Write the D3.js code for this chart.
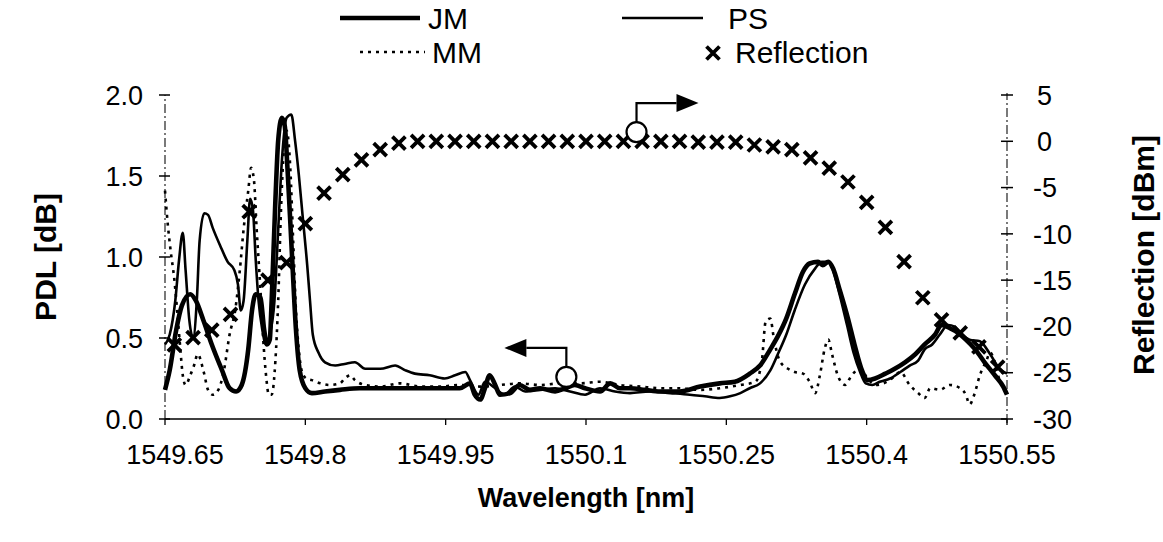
<!DOCTYPE html>
<html><head><meta charset="utf-8">
<script src="https://cdn.jsdelivr.net/npm/d3@7"></script>
<style>
body{margin:0;background:#fff}
svg{display:block;background:#fff}
text{font-family:"Liberation Sans",Arial,sans-serif;fill:#000}
</style>
</head><body>
<svg id="chart" width="1163" height="542"></svg>
<script>
// ---------- data ----------
const xTickValues = [1549.65, 1549.8, 1549.95, 1550.1, 1550.25, 1550.4, 1550.55];
const xTickLabels = ["1549.65", "1549.8", "1549.95", "1550.1", "1550.25", "1550.4", "1550.55"];
const pdlTickValues = [0, 0.5, 1.0, 1.5, 2.0];
const pdlTickLabels = ["0.0", "0.5", "1.0", "1.5", "2.0"];
const reflTickValues = [5, 0, -5, -10, -15, -20, -25, -30];
const reflTickLabels = ["5", "0", "-5", "-10", "-15", "-20", "-25", "-30"];

const seriesNames = ["JM", "PS", "MM", "Reflection"];

const jmWl = [1549.650,1549.655,1549.662,1549.668,1549.677,1549.683,1549.691,1549.700,1549.711,1549.719,1549.726,1549.732,1549.739,1549.743,1549.747,1549.752,1549.756,1549.759,1549.762,1549.764,1549.768,1549.771,1549.775,1549.778,1549.781,1549.786,1549.790,1549.794,1549.800,1549.807,1549.821,1549.837,1549.858,1549.880,1549.901,1549.923,1549.944,1549.965,1549.976,1549.981,1549.987,1549.992,1549.997,1550.003,1550.008,1550.019,1550.029,1550.040,1550.051,1550.067,1550.078,1550.088,1550.099,1550.115,1550.126,1550.136,1550.147,1550.163,1550.179,1550.200,1550.222,1550.243,1550.259,1550.275,1550.286,1550.297,1550.305,1550.314,1550.323,1550.332,1550.339,1550.348,1550.353,1550.359,1550.364,1550.371,1550.380,1550.387,1550.395,1550.401,1550.409,1550.420,1550.430,1550.441,1550.452,1550.462,1550.473,1550.480,1550.489,1550.498,1550.506,1550.516,1550.526,1550.537,1550.546,1550.550];
const jmPdl = [0.18,0.30,0.55,0.70,0.77,0.73,0.61,0.46,0.30,0.19,0.17,0.21,0.43,0.67,0.77,0.75,0.55,0.46,0.49,0.73,1.35,1.72,1.86,1.81,1.54,0.98,0.55,0.30,0.19,0.16,0.17,0.18,0.19,0.19,0.19,0.19,0.19,0.19,0.22,0.15,0.12,0.19,0.27,0.21,0.15,0.16,0.21,0.18,0.19,0.17,0.19,0.21,0.19,0.17,0.22,0.19,0.19,0.18,0.17,0.17,0.20,0.22,0.23,0.28,0.33,0.43,0.51,0.62,0.77,0.91,0.96,0.97,0.95,0.97,0.93,0.80,0.62,0.46,0.30,0.24,0.25,0.28,0.31,0.35,0.40,0.46,0.52,0.58,0.56,0.53,0.49,0.43,0.35,0.27,0.20,0.15];

const psWl = [1549.650,1549.655,1549.661,1549.665,1549.669,1549.672,1549.676,1549.680,1549.684,1549.687,1549.692,1549.696,1549.701,1549.709,1549.717,1549.724,1549.728,1549.731,1549.734,1549.738,1549.741,1549.744,1549.747,1549.750,1549.754,1549.758,1549.762,1549.767,1549.771,1549.775,1549.780,1549.785,1549.789,1549.793,1549.797,1549.802,1549.805,1549.808,1549.814,1549.821,1549.832,1549.842,1549.853,1549.864,1549.880,1549.896,1549.907,1549.917,1549.933,1549.949,1549.960,1549.971,1549.976,1549.985,1549.992,1550.003,1550.013,1550.024,1550.035,1550.051,1550.067,1550.083,1550.099,1550.115,1550.131,1550.147,1550.168,1550.190,1550.211,1550.227,1550.243,1550.254,1550.265,1550.275,1550.286,1550.297,1550.305,1550.314,1550.323,1550.334,1550.345,1550.352,1550.359,1550.364,1550.371,1550.379,1550.386,1550.393,1550.399,1550.406,1550.414,1550.425,1550.436,1550.446,1550.455,1550.462,1550.470,1550.478,1550.487,1550.494,1550.502,1550.510,1550.521,1550.532,1550.542,1550.550];
const psPdl = [0.46,0.52,0.73,0.98,1.15,0.92,0.61,0.50,0.73,1.10,1.27,1.26,1.18,1.07,0.97,0.92,0.83,0.67,0.73,1.10,1.36,1.29,0.98,0.73,0.55,0.46,0.52,0.73,1.17,1.60,1.86,1.88,1.72,1.51,1.26,0.95,0.73,0.52,0.41,0.35,0.33,0.34,0.35,0.31,0.31,0.33,0.30,0.28,0.27,0.25,0.27,0.29,0.24,0.15,0.23,0.19,0.15,0.20,0.17,0.18,0.19,0.17,0.15,0.19,0.17,0.16,0.17,0.16,0.15,0.14,0.13,0.14,0.16,0.19,0.22,0.30,0.40,0.52,0.67,0.83,0.93,0.97,0.97,0.92,0.77,0.58,0.41,0.29,0.22,0.21,0.23,0.25,0.29,0.33,0.36,0.43,0.46,0.52,0.58,0.57,0.52,0.49,0.48,0.40,0.31,0.28];

const mmWl = [1549.650,1549.653,1549.656,1549.660,1549.663,1549.666,1549.669,1549.672,1549.677,1549.681,1549.685,1549.691,1549.696,1549.701,1549.707,1549.713,1549.719,1549.725,1549.730,1549.734,1549.739,1549.742,1549.745,1549.748,1549.752,1549.755,1549.758,1549.761,1549.764,1549.768,1549.771,1549.774,1549.777,1549.780,1549.784,1549.787,1549.790,1549.793,1549.796,1549.801,1549.807,1549.816,1549.826,1549.837,1549.842,1549.848,1549.853,1549.864,1549.880,1549.901,1549.923,1549.944,1549.965,1549.987,1550.008,1550.029,1550.051,1550.072,1550.094,1550.115,1550.136,1550.158,1550.179,1550.200,1550.222,1550.243,1550.265,1550.281,1550.288,1550.292,1550.297,1550.301,1550.307,1550.316,1550.323,1550.332,1550.339,1550.345,1550.350,1550.355,1550.359,1550.363,1550.369,1550.377,1550.384,1550.393,1550.401,1550.410,1550.418,1550.427,1550.436,1550.446,1550.455,1550.462,1550.468,1550.478,1550.489,1550.500,1550.506,1550.510,1550.515,1550.521,1550.528,1550.532,1550.537,1550.542,1550.548];
const mmPdl = [1.41,1.20,1.04,0.86,0.67,0.46,0.27,0.21,0.27,0.33,0.40,0.30,0.18,0.15,0.18,0.30,0.52,0.67,0.92,1.17,1.41,1.55,1.48,1.17,0.80,0.49,0.27,0.15,0.15,0.36,0.73,1.29,1.66,1.78,1.54,1.10,0.67,0.43,0.30,0.25,0.24,0.22,0.21,0.22,0.25,0.27,0.24,0.21,0.20,0.22,0.20,0.20,0.21,0.20,0.21,0.22,0.21,0.22,0.22,0.23,0.21,0.20,0.19,0.19,0.18,0.19,0.21,0.23,0.36,0.60,0.62,0.49,0.36,0.31,0.29,0.28,0.23,0.16,0.27,0.43,0.49,0.40,0.27,0.21,0.27,0.31,0.25,0.21,0.22,0.25,0.29,0.21,0.16,0.13,0.19,0.18,0.21,0.19,0.15,0.09,0.15,0.27,0.36,0.41,0.35,0.24,0.18];

const reflWl = [1549.66,1549.68,1549.70,1549.72,1549.74,1549.76,1549.78,1549.80,1549.82,1549.84,1549.86,1549.88,1549.90,1549.92,1549.94,1549.96,1549.98,1550.00,1550.02,1550.04,1550.06,1550.08,1550.10,1550.12,1550.14,1550.16,1550.18,1550.20,1550.22,1550.24,1550.26,1550.28,1550.30,1550.32,1550.34,1550.36,1550.38,1550.40,1550.42,1550.44,1550.46,1550.48,1550.50,1550.52,1550.54];
const reflDbm = [-22.0,-21.2,-20.4,-18.7,-7.6,-15.0,-13.1,-8.9,-5.6,-3.6,-2.0,-0.9,-0.2,0.0,0.0,0.0,0.0,0.0,0.0,0.0,0.0,0.0,0.0,0.0,0.0,0.0,0.0,0.0,-0.1,-0.1,-0.1,-0.4,-0.6,-0.9,-1.8,-2.9,-4.4,-6.6,-9.3,-13.0,-16.9,-19.3,-20.7,-22.2,-24.4];

// axis-pointer annotations (circle anchor in data units)
const leftPointerAnchor = [1550.079, 0.26];   // PDL axis
const rightPointerAnchor = [1550.154, 1.0];   // Reflection axis

// ---------- drawing ----------
const svg = d3.select("#chart");
const x = d3.scaleLinear().domain([1549.65, 1550.55]).range([165, 1007]);
const yL = d3.scaleLinear().domain([0, 2]).range([419, 95]);
const yR = d3.scaleLinear().domain([-30, 5]).range([419, 95]);

const tickFont = 27;

// axes lines
svg.append("line").attr("x1", x.range()[0]).attr("x2", x.range()[0]).attr("y1", yL(0)).attr("y2", yL(2))
  .attr("stroke", "#222").attr("stroke-width", 1.2).attr("stroke-dasharray", "9,3,2,3");
svg.append("line").attr("x1", x.range()[1]).attr("x2", x.range()[1]).attr("y1", yR(-30) + 4).attr("y2", yR(5) - 2)
  .attr("stroke", "#222").attr("stroke-width", 1.2).attr("stroke-dasharray", "9,3,2,3");
svg.append("line").attr("x1", x.range()[0]).attr("x2", x.range()[1]).attr("y1", yL(0)).attr("y2", yL(0))
  .attr("stroke", "#000").attr("stroke-width", 1.6);

// left ticks
const gL = svg.append("g");
gL.selectAll("line").data(pdlTickValues).join("line")
  .attr("x1", x.range()[0] - 6).attr("x2", x.range()[0] + 5)
  .attr("y1", d => yL(d)).attr("y2", d => yL(d)).attr("stroke", "#000").attr("stroke-width", 1.5);
gL.selectAll("text").data(pdlTickValues).join("text")
  .attr("x", 143).attr("y", d => yL(d)).attr("dy", "0.36em").attr("text-anchor", "end")
  .style("font-size", tickFont + "px").text((d, i) => pdlTickLabels[i]);

// right ticks
const gR = svg.append("g");
gR.selectAll("line").data(reflTickValues).join("line")
  .attr("x1", x.range()[1] - 6).attr("x2", x.range()[1] + 6)
  .attr("y1", d => yR(d)).attr("y2", d => yR(d)).attr("stroke", "#000").attr("stroke-width", 1.5);
gR.selectAll("text").data(reflTickValues).join("text")
  .attr("x", d => d < 0 ? 1033 : 1037).attr("y", d => yR(d)).attr("dy", "0.36em").attr("text-anchor", "start")
  .style("font-size", tickFont + "px").text((d, i) => reflTickLabels[i]);

// x ticks
const gX = svg.append("g");
gX.selectAll("line").data(xTickValues).join("line")
  .attr("x1", d => x(d)).attr("x2", d => x(d)).attr("y1", yL(0)).attr("y2", yL(0) + 6)
  .attr("stroke", "#000").attr("stroke-width", 1.3);
gX.selectAll("text").data(xTickValues).join("text")
  .attr("x", (d, i) => x(d) + (i === 0 ? 10 : 0)).attr("y", 464).attr("text-anchor", "middle")
  .style("font-size", tickFont + "px").text((d, i) => xTickLabels[i]);

// axis titles
svg.append("text").attr("transform", "translate(56,257) rotate(-90)").attr("text-anchor", "middle")
  .style("font-size", "30px").style("font-weight", "bold").text("PDL [dB]");
svg.append("text").attr("transform", "translate(1154,255) rotate(-90)").attr("text-anchor", "middle")
  .style("font-size", "30px").style("font-weight", "bold").text("Reflection [dBm]");
svg.append("text").attr("x", 586).attr("y", 507).attr("text-anchor", "middle")
  .style("font-size", "27px").style("font-weight", "bold").text("Wavelength [nm]");

// lines
const line = d3.line().curve(d3.curveMonotoneX);
const mk = (wl, v) => wl.map((w, i) => [x(w), yL(v[i])]);
const plot = svg.append("g");
plot.append("path").attr("d", line(mk(mmWl, mmPdl))).attr("fill", "none").attr("stroke", "#000")
  .attr("stroke-width", 2.6).attr("stroke-dasharray", "3,5");
plot.append("path").attr("d", line(mk(psWl, psPdl))).attr("fill", "none").attr("stroke", "#000")
  .attr("stroke-width", 2.6).attr("stroke-linejoin", "round");
plot.append("path").attr("d", line(mk(jmWl, jmPdl))).attr("fill", "none").attr("stroke", "#000")
  .attr("stroke-width", 4.6).attr("stroke-linejoin", "round");

// reflection markers
const s = 6.5;
const crossPath = `M${-s},${-s}L${s},${s}M${-s},${s}L${s},${-s}`;
plot.selectAll("path.refl").data(reflWl).join("path").attr("class", "refl")
  .attr("transform", (w, i) => `translate(${x(w)},${yR(reflDbm[i])})`)
  .attr("d", crossPath).attr("stroke", "#000").attr("stroke-width", 3.8).attr("fill", "none");

// pointer annotations
function pointer(cx, cy, dir) {
  const g = svg.append("g");
  const up = 29, len = 40, head = 22, hh = 9;
  g.append("path").attr("d", `M${cx},${cy - 10}V${cy - up}H${cx + dir * len}`)
    .attr("fill", "none").attr("stroke", "#000").attr("stroke-width", 2.2);
  g.append("path").attr("d", `M${cx + dir * (len + head)},${cy - up}L${cx + dir * len},${cy - up - hh}L${cx + dir * len},${cy - up + hh}Z`)
    .attr("fill", "#000");
  g.append("circle").attr("cx", cx).attr("cy", cy).attr("r", 10).attr("fill", "#fff")
    .attr("stroke", "#000").attr("stroke-width", 2.2);
}
pointer(x(leftPointerAnchor[0]), yL(leftPointerAnchor[1]), -1);
pointer(x(rightPointerAnchor[0]), yR(rightPointerAnchor[1]), 1);

// legend
const lg = svg.append("g").style("font-size", "30px");
lg.append("line").attr("x1", 340).attr("x2", 420).attr("y1", 18).attr("y2", 18).attr("stroke", "#000").attr("stroke-width", 4.6);
lg.append("text").attr("x", 428).attr("y", 29).text(seriesNames[0]);
lg.append("line").attr("x1", 622).attr("x2", 703).attr("y1", 18).attr("y2", 18).attr("stroke", "#000").attr("stroke-width", 2.6);
lg.append("text").attr("x", 728).attr("y", 29).text(seriesNames[1]);
lg.append("line").attr("x1", 360).attr("x2", 425).attr("y1", 52).attr("y2", 52).attr("stroke", "#000").attr("stroke-width", 2.6).attr("stroke-dasharray", "3,5");
lg.append("text").attr("x", 432).attr("y", 63).text(seriesNames[2]);
lg.append("path").attr("transform", "translate(713,53)").attr("d", crossPath).attr("stroke", "#000").attr("stroke-width", 3.8);
lg.append("text").attr("x", 735).attr("y", 63).text(seriesNames[3]);
</script>
</body></html>
